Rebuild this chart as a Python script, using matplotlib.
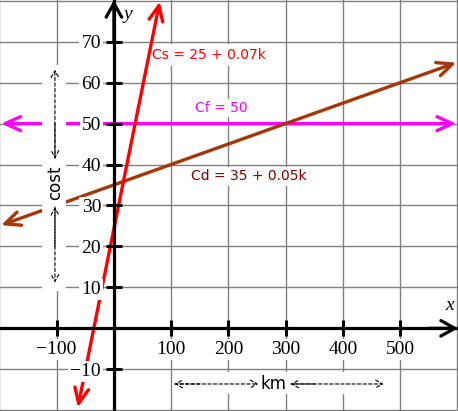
import matplotlib
matplotlib.use('Agg')
import matplotlib.pyplot as plt
from matplotlib.patches import Rectangle

# distance k (km) and cost readings at the ends of each drawn line
cs_k = [-63, 80]
cs_cost = [-19.3, 79.8]
cd_k = [-197, 598]
cd_cost = [25.2, 64.9]
cf_k = [-197, 598]
cf_cost = [50, 50]

x_ticks = [-100, 100, 200, 300, 400, 500]
y_ticks = [-10, 10, 20, 30, 40, 50, 60, 70]
grid_x = [-200, -100, 100, 200, 300, 400, 500, 600]
grid_y = [-20, -10, 10, 20, 30, 40, 50, 60, 70, 80]

labels = ['Cs = 25 + 0.07k', 'Cf = 50', 'Cd = 35 + 0.05k']

RED = '#ff0000'
PINK = '#ff00ff'
BROWN = '#a63606'
MAROON = '#800000'
GRID = '#808080'

fig = plt.figure(figsize=(4.58, 4.11), dpi=100)
ax = fig.add_axes([0, 0, 1, 1])
ax.set_xlim(-199, 601)
ax.set_ylim(-20.2, 80.2)

for gx in grid_x:
    ax.axvline(gx, color=GRID, lw=1.0, zorder=0.5)
for gy in grid_y:
    ax.axhline(gy, color=GRID, lw=1.0, zorder=0.5)

# axes through the origin
ax.spines['top'].set_visible(False)
ax.spines['right'].set_visible(False)
ax.spines['left'].set_position(('data', 0))
ax.spines['bottom'].set_position(('data', 0))
for s in ['left', 'bottom']:
    ax.spines[s].set_linewidth(2.3)
    ax.spines[s].set_color('black')
    ax.spines[s].set_zorder(2.6)
ax.set_axisbelow(False)
ax.set_xticks(x_ticks)
ax.set_yticks(y_ticks)
ax.tick_params(direction='inout', length=11.5, width=2.2, pad=3.5, labelsize=14)
for lbl in ax.get_xticklabels() + ax.get_yticklabels():
    lbl.set_fontfamily('Liberation Serif')
    lbl.set_bbox(dict(facecolor='white', edgecolor='none', pad=1.5))

head = dict(mutation_scale=20, shrinkA=0, shrinkB=0)
ax.annotate('', xy=(0, 80.2), xytext=(0, 70),
            arrowprops=dict(arrowstyle='->,head_length=0.5,head_width=0.28', lw=2.3, color='black', **head), zorder=2.7)
ax.annotate('', xy=(601, 0), xytext=(550, 0),
            arrowprops=dict(arrowstyle='->,head_length=0.5,head_width=0.28', lw=2.3, color='black', **head), zorder=2.7)

def arrow_line(ks, cs, color, z):
    ax.annotate('', xy=(ks[1], cs[1]), xytext=(ks[0], cs[0]),
                arrowprops=dict(arrowstyle='<->,head_length=0.55,head_width=0.25', lw=2.4, color=color, **head),
                zorder=z)

arrow_line(cf_k, cf_cost, PINK, 2)
arrow_line(cd_k, cd_cost, BROWN, 2)
arrow_line(cs_k, cs_cost, RED, 2.3)

ax.text(67, 66.8, labels[0], color=RED, fontsize=10, ha='left', va='center', zorder=2.2,
        bbox=dict(facecolor='white', edgecolor='none', pad=3))
ax.text(141, 53.9, labels[1], color=PINK, fontsize=10, ha='left', va='center', zorder=2.2,
        bbox=dict(facecolor='white', edgecolor='none', pad=1.5))
ax.text(134, 37.1, labels[2], color=MAROON, fontsize=10, ha='left', va='center', zorder=2.2,
        bbox=dict(facecolor='white', edgecolor='none', pad=2))

ax.text(24, 76.6, 'y', fontsize=14, style='italic', family='Liberation Serif', ha='center', va='center')
ax.text(586, 5.6, 'x', fontsize=14, style='italic', family='Liberation Serif', ha='center', va='center')

# "cost" label with dashed arrows
ax.add_patch(Rectangle((-126, 9), 42, 55.4, facecolor='white', edgecolor='none', zorder=4))
dash = dict(arrowstyle='->,head_length=0.35,head_width=0.2', lw=0.8, ls=(0, (3, 2)), color='black',
            mutation_scale=14, shrinkA=0, shrinkB=0)
ax.annotate('', xy=(-103, 63.2), xytext=(-103, 41.5), arrowprops=dash, zorder=5)
ax.annotate('', xy=(-103, 11.2), xytext=(-103, 29.6), arrowprops=dash, zorder=5)
ax.annotate('', xy=(-103, 41.5), xytext=(-103, 50), arrowprops=dash, zorder=5)
ax.annotate('', xy=(-103, 29.6), xytext=(-103, 20), arrowprops=dash, zorder=5)
ax.text(-103, 35.6, 'cost', rotation=90, fontsize=12, ha='center', va='center', zorder=5)

# "km" label with dashed arrows
ax.add_patch(Rectangle((103, -16.1), 379, 5.5, facecolor='white', edgecolor='none', zorder=4))
ax.annotate('', xy=(252, -13.6), xytext=(106, -13.6), arrowprops=dash, zorder=5)
ax.annotate('', xy=(471, -13.6), xytext=(309, -13.6), arrowprops=dash, zorder=5)
ax.annotate('', xy=(106, -13.6), xytext=(150, -13.6), arrowprops=dash, zorder=5)
ax.annotate('', xy=(309, -13.6), xytext=(350, -13.6), arrowprops=dash, zorder=5)
ax.text(279, -13.6, 'km', fontsize=12, ha='center', va='center', zorder=5)

plt.savefig('out.png', dpi=100)
